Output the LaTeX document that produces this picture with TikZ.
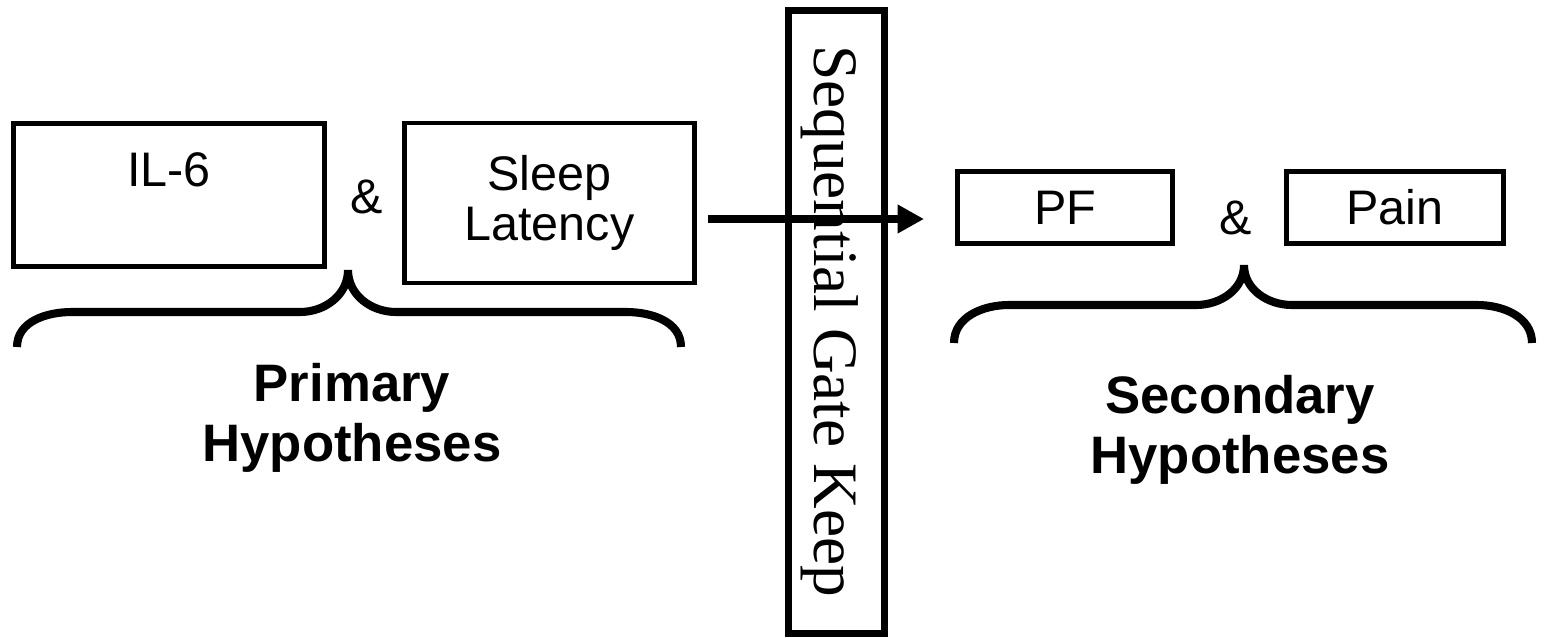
\documentclass[tikz,border=0pt]{standalone}
\usepackage{fontspec}
\setmainfont{Liberation Sans}
\newfontfamily\gatefont{Liberation Serif}
\usetikzlibrary{arrows.meta,positioning}

\tikzset{
  box/.style={draw, line width=1.4pt, inner sep=0pt, align=center,
    font=\fontsize{13.8}{14.2}\selectfont},
  amp/.style={font=\fontsize{13.8}{14.2}\selectfont},
  hyp/.style={align=center, font=\bfseries\fontsize{15}{17}\selectfont},
  brace/.style={line width=2.3pt},
  flow/.style={line width=2.3pt, -{Triangle[length=7.5pt,width=7.7pt]}}
}

\begin{document}
\begin{tikzpicture}
\useasboundingbox (0,0) rectangle (15.44,-6.38);
% primary boxes
\node[box, minimum width=3.11cm, minimum height=1.43cm] (il6) at (1.69,-1.95) {IL-6\\~};
\node[box, minimum width=2.90cm, minimum height=1.60cm] (sleep) at (5.495,-2.03) {Sleep\\Latency};
\node[amp] (and1) at (3.67,-1.97) {\&};
% secondary boxes
\node[box, minimum width=2.15cm, minimum height=0.72cm] (pf) at (10.65,-2.075) {PF};
\node[box, minimum width=2.17cm, minimum height=0.72cm] (pain) at (13.95,-2.075) {Pain};
\node[amp] (and2) at (12.36,-2.18) {\&};

% gate keeper
\node[draw, line width=2pt, minimum width=0.96cm, minimum height=6.23cm] (gate) at (8.365,-3.22) {};
\node[rotate=-90, font=\gatefont\fontsize{18}{20}\selectfont, inner sep=0pt] (gatetxt) at (8.30,-3.21) {Sequential Gate Keep};

% arrow through the gate
\coordinate (a1) at (7.08,-2.19);
\coordinate (a2) at (9.24,-2.19);
\draw[flow] (a1) -- (a2);

% braces
\draw[brace] (0.17,-3.47) to[out=90,in=180] (0.72,-3.12) -- (3.0,-3.12)
  to[out=0,in=-90] (3.48,-2.70) to[out=-90,in=180] (3.96,-3.12) -- (6.26,-3.12)
  to[out=0,in=90] (6.81,-3.47);
\draw[brace] (9.54,-3.43) to[out=90,in=180] (10.09,-3.05) -- (11.96,-3.05)
  to[out=0,in=-90] (12.44,-2.65) to[out=-90,in=180] (12.92,-3.05) -- (14.77,-3.05)
  to[out=0,in=90] (15.32,-3.43);

% labels
\node[hyp] (prim) at (3.52,-4.18) {Primary\\Hypotheses};
\node[hyp] (sec) at (12.40,-4.30) {Secondary\\Hypotheses};
\end{tikzpicture}
\end{document}
